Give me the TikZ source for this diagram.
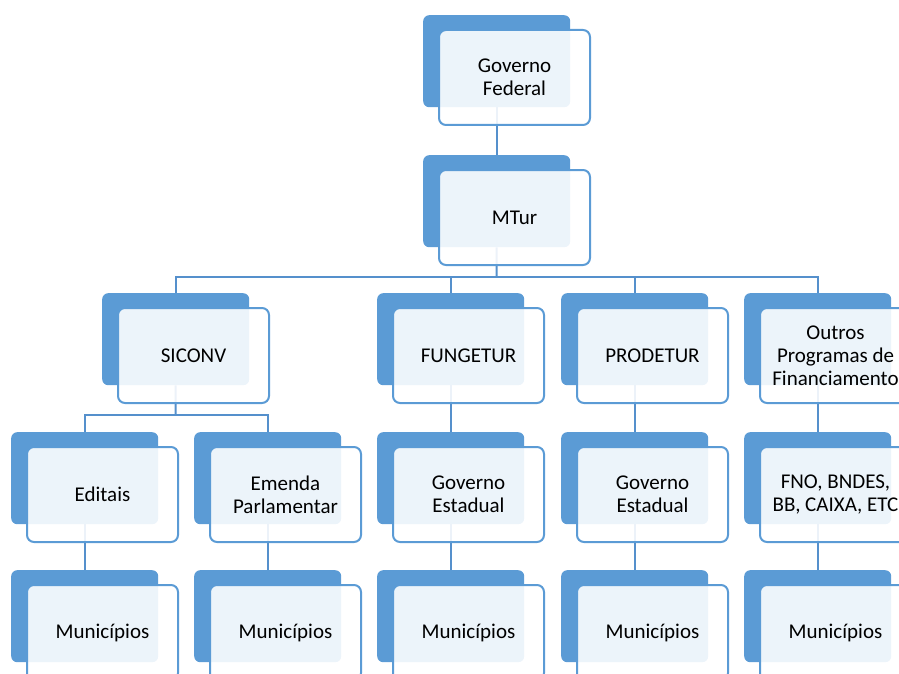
\documentclass[tikz,border=0pt]{standalone}
\usepackage{fontspec}
\setmainfont{Carlito}
\definecolor{acc}{HTML}{5B9BD5}
\definecolor{lnk}{HTML}{5590CC}
\pgfdeclarelayer{background}
\pgfsetlayers{background,main}
\newcommand\orgbox[4]{%
  \node[backbox] (#1b) at (#2,#3) {};
  \node[frontbox] (#1) at (#2+15,#3+14) {#4};}
\begin{document}
\begin{tikzpicture}[x=1pt,y=-1pt,
  backbox/.style={fill=acc, rounded corners=6pt, minimum width=147pt, minimum height=92pt, inner sep=0pt, anchor=north west},
  frontbox/.style={draw=acc, line width=2pt, fill=white, fill opacity=0.89, text opacity=1, draw opacity=1, rounded corners=7pt, minimum width=151pt, minimum height=95pt, inner sep=0pt, anchor=north west, align=center, font=\fontsize{21}{23}\selectfont, text=black},
  link/.style={draw=lnk, line width=2pt}]
\useasboundingbox (0,0) rectangle (899,674);
\clip (0,0) rectangle (899,674);
% level 1-2
\orgbox{gf}{423}{15}{Governo\\Federal}
\orgbox{mt}{423}{155}{MTur}
% level 3
\orgbox{si}{102}{293}{SICONV}
\orgbox{fu}{377}{293}{FUNGETUR}
\orgbox{pr}{561}{293}{PRODETUR}
\orgbox{ou}{744}{293}{Outros\\Programas de\\Financiamento}
% level 4
\orgbox{ed}{11}{432}{Editais}
\orgbox{em}{194}{432}{Emenda\\Parlamentar}
\orgbox{ge}{377}{432}{Governo\\Estadual}
\orgbox{gp}{561}{432}{Governo\\Estadual}
\orgbox{fn}{744}{432}{FNO, BNDES,\\BB, CAIXA, ETC}
% level 5
\orgbox{ma}{11}{570}{Municípios}
\orgbox{mb}{194}{570}{Municípios}
\orgbox{mc}{377}{570}{Municípios}
\orgbox{md}{561}{570}{Municípios}
\orgbox{me}{744}{570}{Municípios}
\coordinate (bus1) at (496.5,277);
\coordinate (bus2) at (175.5,415);
\begin{pgfonlayer}{background}
\draw[link] (gfb.south) -- (mtb.north);
\draw[link] (mtb.south) -- (bus1);
\draw[link] (sib.north) |- (bus1);
\draw[link] (fub.north) |- (bus1);
\draw[link] (prb.north) |- (bus1);
\draw[link] (oub.north) |- (bus1);
\draw[link] (sib.south) -- (bus2);
\draw[link] (edb.north) |- (bus2);
\draw[link] (emb.north) |- (bus2);
\draw[link] (fub.south) -- (geb.north);
\draw[link] (prb.south) -- (gpb.north);
\draw[link] (oub.south) -- (fnb.north);
\draw[link] (edb.south) -- (mab.north);
\draw[link] (emb.south) -- (mbb.north);
\draw[link] (geb.south) -- (mcb.north);
\draw[link] (gpb.south) -- (mdb.north);
\draw[link] (fnb.south) -- (meb.north);
\end{pgfonlayer}
\end{tikzpicture}
\end{document}
